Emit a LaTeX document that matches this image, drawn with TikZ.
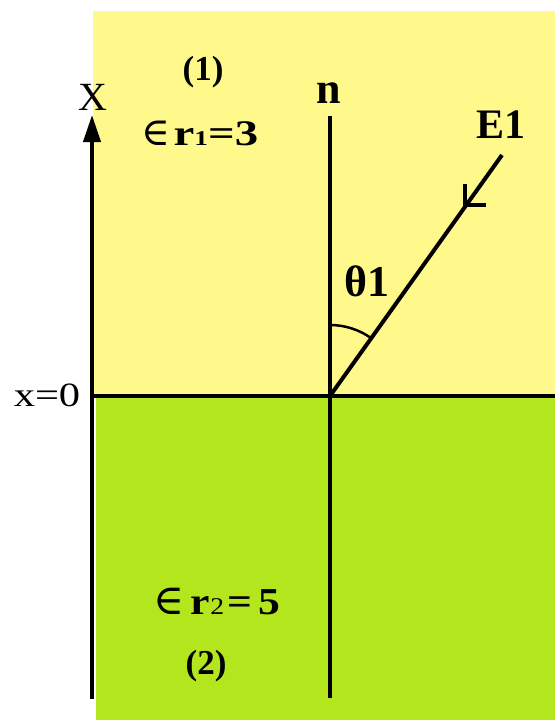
\documentclass[tikz,border=0pt]{standalone}
\usepackage{fontspec}
\setmainfont{Liberation Serif}
\newfontfamily\symf{DejaVu Serif}
\usetikzlibrary{arrows.meta}
\definecolor{ylw}{RGB}{255,249,140}
\definecolor{grn}{RGB}{180,230,30}
\newcommand{\fsz}[1]{\fontsize{#1}{#1}\selectfont}
\newcommand{\wid}[2][1.25]{\scalebox{#1}[1]{#2}}
\newcommand{\elem}[1]{{\symf\mdseries\fsz{#1}∈}}
\begin{document}
\begin{tikzpicture}[x=1pt,y=-1pt,
  lbl/.style={inner sep=0pt,text=black},
  thick line/.style={line width=4pt,black},
  mid line/.style={line width=3.5pt,black}]
\useasboundingbox (0,0) rectangle (555,720);
% regions
\fill[ylw] (93,11) rectangle (555,396);
\fill[grn] (96,396) rectangle (555,720);
% coordinates
\coordinate (o) at (330,396);
\coordinate (axb) at (92,699);
\coordinate (axt) at (92,115);
\coordinate (hl) at (92,396);
\coordinate (hr) at (555,396);
\coordinate (nb) at (330,698);
\coordinate (nt) at (330,116);
\coordinate (es) at (502,155);
\coordinate (em) at (465,205);
\coordinate (bu) at (465,184);
\coordinate (br) at (486,205);
\coordinate (arcs) at (330,325);
% lines
\draw[thick line] (hl) -- (hr);
\draw[thick line,-{Triangle[length=27pt,width=17pt]}] (axb) -- (axt);
\draw[mid line] (nb) -- (nt);
\draw[thick line] (es) -- (o);
\draw[line width=3.5pt,line join=miter] (bu) -- (em) -- (br);
% angle arc
\draw[line width=2.5pt] (arcs) arc[start angle=-90,end angle=-54.5,radius=71];
% labels
\node[lbl] (l1) at (203,72) {\fsz{35}\bfseries (1)};
\node[lbl,anchor=base] (eps1) at (200,145)
  {\elem{39}\hspace{3pt}\wid[1.3]{\fsz{36}\bfseries r{\fsz{21}1}=3}};
\node[lbl] (X) at (93,97) {\fsz{40}X};
\node[lbl] (n) at (329,93) {\fsz{44}\bfseries n};
\node[lbl] (E1) at (501,125) {\fsz{42}\bfseries E1};
\node[lbl] (th) at (367,281) {\fsz{44}\bfseries θ1};
\node[lbl] (x0) at (47,395) {\fsz{34}\wid{x=0}};
\node[lbl,anchor=base] (eps2) at (217,614)
  {\elem{42}\hspace{6pt}\wid[1.15]{\fsz{38}\bfseries r{\mdseries\fsz{24}2}\hspace{3pt}=\hspace{5pt}5}};
\node[lbl] (l2) at (206,666) {\fsz{35}\bfseries (2)};
\end{tikzpicture}
\end{document}
